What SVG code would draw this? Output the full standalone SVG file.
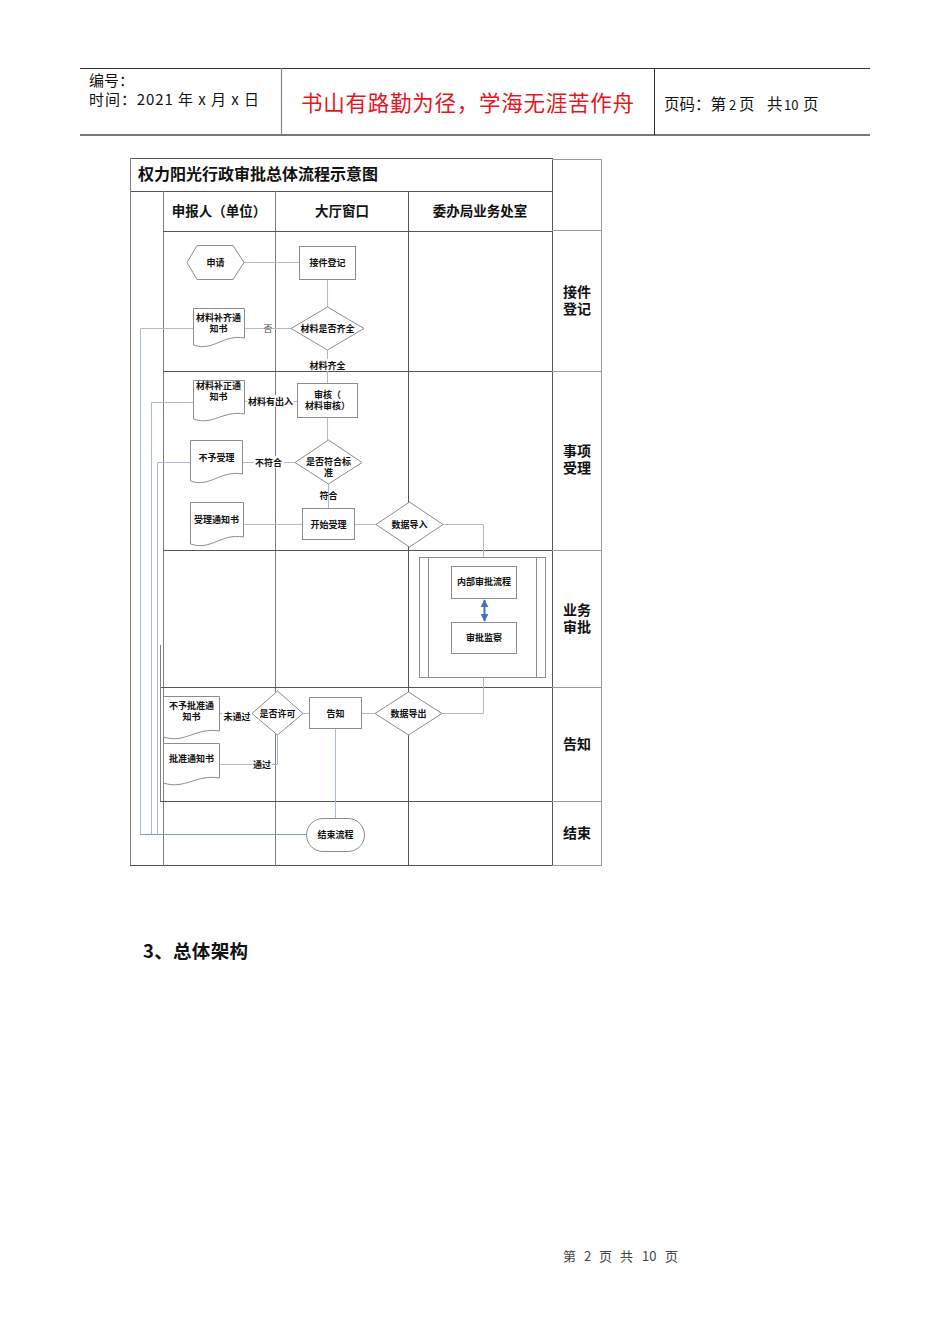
<svg xmlns="http://www.w3.org/2000/svg" width="950" height="1344" viewBox="0 0 950 1344">
<defs>
<style>
.cjk{font-family:"Noto Sans CJK SC","Liberation Sans",sans-serif;}
.grid{stroke:#7f7f7f;stroke-width:1;fill:none;}
.gridd{stroke:#555;stroke-width:1;fill:none;}
.rc{stroke:#9a9a9a;stroke-width:1;fill:none;}
.shape{fill:#fff;stroke:#8c8c8c;stroke-width:1;}
.conn{stroke:#a9bbd2;stroke-width:1;fill:none;}
.conn2{stroke:#7f9bc4;stroke-width:1;fill:none;}
.nt{font-family:"Noto Sans CJK SC","Liberation Sans",sans-serif;font-size:9px;font-weight:bold;fill:#111;text-anchor:middle;}
.lbl{font-family:"Noto Sans CJK SC","Liberation Sans",sans-serif;font-size:9px;font-weight:bold;fill:#111;text-anchor:middle;}
.hd{font-family:"Noto Sans CJK SC","Liberation Sans",sans-serif;font-size:13.5px;font-weight:bold;fill:#111;text-anchor:middle;}
.rl{font-family:"Noto Sans CJK SC","Liberation Sans",sans-serif;font-size:14px;font-weight:bold;fill:#111;text-anchor:middle;}
</style>
<marker id="ab" viewBox="0 0 10 10" refX="9" refY="5" markerWidth="4" markerHeight="4" orient="auto-start-reverse">
<path d="M0,0 L10,5 L0,10 z" fill="#4472c4"/>
</marker>
</defs>
<rect width="950" height="1344" fill="#fff"/>

<g id="page-header">
<line x1="80" y1="68.5" x2="870" y2="68.5" stroke="#333" stroke-width="1"/>
<line x1="80" y1="135" x2="870" y2="135" stroke="#777" stroke-width="2"/>
<line x1="281.5" y1="68" x2="281.5" y2="135" stroke="#888" stroke-width="1.2"/>
<line x1="654.5" y1="68" x2="654.5" y2="135" stroke="#333" stroke-width="1"/>
<text class="cjk" x="89" y="86" font-size="15" fill="#111">编号：</text>
<text class="cjk" x="89" y="105" font-size="15" fill="#111" textLength="170" lengthAdjust="spacing">时间：2021 年 x 月 x 日</text>
<text class="cjk" x="301" y="111" font-size="21.5" fill="#e8141e" textLength="333" lengthAdjust="spacing">书山有路勤为径，学海无涯苦作舟</text>
<text class="cjk" y="110" font-size="15.5" fill="#111"><tspan x="664">页码：第</tspan><tspan x="729" font-size="13">2</tspan><tspan x="739">页</tspan><tspan x="767">共</tspan><tspan x="784" font-size="13">10</tspan><tspan x="803">页</tspan></text>
</g>

<g id="swimlane-grid">
<rect x="130.5" y="158.5" width="422" height="33" class="gridd"/>
<line x1="130.5" y1="158" x2="130.5" y2="866" class="grid"/>
<line x1="130" y1="865.5" x2="552" y2="865.5" class="gridd"/>
<line x1="163.5" y1="191" x2="163.5" y2="866" class="grid"/>
<line x1="275.5" y1="191" x2="275.5" y2="866" class="grid"/>
<line x1="408.5" y1="191" x2="408.5" y2="866" class="gridd"/>
<line x1="552.5" y1="159" x2="552.5" y2="866" class="gridd"/>
<line x1="163" y1="231.5" x2="552" y2="231.5" class="gridd"/>
<line x1="163" y1="371.5" x2="552" y2="371.5" class="gridd"/>
<line x1="163" y1="550.5" x2="552" y2="550.5" class="gridd"/>
<line x1="160" y1="687.5" x2="552" y2="687.5" class="gridd"/>
<line x1="160" y1="801.5" x2="552" y2="801.5" class="gridd"/>
<line x1="160.5" y1="645" x2="160.5" y2="801" class="grid"/>
<line x1="601.5" y1="159" x2="601.5" y2="866" class="rc"/>
<line x1="552" y1="159.5" x2="601" y2="159.5" class="rc"/>
<line x1="552" y1="230.5" x2="601" y2="230.5" class="rc"/>
<line x1="552" y1="371.5" x2="601" y2="371.5" class="rc"/>
<line x1="552" y1="550.5" x2="601" y2="550.5" class="rc"/>
<line x1="552" y1="687.5" x2="601" y2="687.5" class="rc"/>
<line x1="552" y1="801.5" x2="601" y2="801.5" class="rc"/>
<line x1="552" y1="865.5" x2="601" y2="865.5" class="rc"/>
<text class="cjk" x="138" y="180" font-size="16" font-weight="bold" fill="#111">权力阳光行政审批总体流程示意图</text>
<text class="hd" x="219" y="216">申报人（单位）</text>
<text class="hd" x="342" y="216">大厅窗口</text>
<text class="hd" x="480" y="216">委办局业务处室</text>
<text class="rl"><tspan x="577" y="297">接件</tspan><tspan x="577" dy="17">登记</tspan></text>
<text class="rl"><tspan x="577" y="456">事项</tspan><tspan x="577" dy="17">受理</tspan></text>
<text class="rl"><tspan x="577" y="615">业务</tspan><tspan x="577" dy="17">审批</tspan></text>
<text class="rl" x="577" y="749">告知</text>
<text class="rl" x="577" y="838">结束</text>
</g>

<g id="node-subprocess">
<rect x="419.5" y="557.5" width="126" height="120" fill="#fff" stroke="#8c8c8c"/>
<line x1="428.5" y1="557.5" x2="428.5" y2="677.5" stroke="#8c8c8c"/>
<line x1="536.5" y1="557.5" x2="536.5" y2="677.5" stroke="#8c8c8c"/>
</g>

<g id="connectors">
<line x1="244" y1="262.5" x2="299" y2="262.5" class="conn"/>
<line x1="327.5" y1="279" x2="327.5" y2="307" class="conn"/>
<line x1="244" y1="328.5" x2="291" y2="328.5" class="conn"/>
<line x1="327.5" y1="350" x2="327.5" y2="383" class="conn"/>
<line x1="244" y1="401.5" x2="297" y2="401.5" class="conn"/>
<line x1="327.5" y1="418" x2="327.5" y2="440" class="conn"/>
<line x1="242" y1="462.5" x2="295" y2="462.5" class="conn"/>
<line x1="328.5" y1="484" x2="328.5" y2="508" class="conn"/>
<line x1="243" y1="524.5" x2="302" y2="524.5" class="conn"/>
<line x1="354" y1="524.5" x2="376" y2="524.5" class="conn"/>
<polyline points="443,524.5 483.5,524.5 483.5,557" class="conn"/>
<polyline points="442,713.5 483.5,713.5 483.5,678" class="conn"/>
<line x1="219" y1="713.5" x2="252" y2="713.5" class="conn"/>
<line x1="303" y1="713.5" x2="309" y2="713.5" class="conn"/>
<line x1="362" y1="713.5" x2="375" y2="713.5" class="conn"/>
<polyline points="219,764.5 277.5,764.5 277.5,735" class="conn"/>
<line x1="335.5" y1="729" x2="335.5" y2="818" class="conn"/>
<polyline points="193,328.5 140.5,328.5 140.5,834" class="conn"/>
<polyline points="193,402.5 151.5,402.5 151.5,834" class="conn"/>
<polyline points="190,462.5 157.5,462.5 157.5,834" class="conn"/>
<line x1="140" y1="834.5" x2="306" y2="834.5" class="conn2"/>
<line x1="484.5" y1="600" x2="484.5" y2="621" stroke="#4472c4" stroke-width="2" marker-start="url(#ab)" marker-end="url(#ab)"/>
<rect x="308" y="359" width="39" height="12" fill="#fff"/>
<text class="lbl" x="327.5" y="369">材料齐全</text>
<text x="268" y="331.5" font-family="'Liberation Serif','Noto Sans CJK SC',serif" font-size="9" fill="#444" text-anchor="middle">否</text>
<rect x="247" y="395" width="47" height="12" fill="#fff"/>
<text class="lbl" x="270.5" y="404.5">材料有出入</text>
<rect x="254" y="456" width="30" height="12" fill="#fff"/>
<text class="lbl" x="268.5" y="465.5">不符合</text>
<text class="lbl" x="328.5" y="498.5">符合</text>
<rect x="222" y="710" width="30" height="12" fill="#fff"/>
<text class="lbl" x="237" y="719.5">未通过</text>
<rect x="252" y="758" width="20" height="12" fill="#fff"/>
<text class="lbl" x="262" y="767.5">通过</text>
</g>

<g id="node-shenqing">
<polygon points="187,262.5 197,245.5 233,245.5 244,262.5 233,279.5 197,279.5" class="shape"/>
<text class="nt" x="215.5" y="265.5">申请</text>
</g>
<g id="node-jiejian">
<rect x="299.5" y="246.5" width="56" height="33" class="shape"/>
<text class="nt" x="327.5" y="265.5">接件登记</text>
</g>
<g id="node-qiquan">
<polygon points="327.5,307 364,328.5 327.5,350 291,328.5" class="shape"/>
<text class="nt" x="327.5" y="331.5">材料是否齐全</text>
</g>
<g id="node-buqi">
<path d="M193.5,308.5 H244.5 V338 C223,334 213,352 193.5,345 Z" class="shape"/>
<text class="nt" x="218.5" y="321">材料补齐通</text>
<text class="nt" x="218.5" y="332">知书</text>
</g>
<g id="node-buzheng">
<path d="M193.5,380.5 H244.5 V414 C223,410 213,426 193.5,419 Z" class="shape"/>
<text class="nt" x="218.5" y="388.5">材料补正通</text>
<text class="nt" x="218.5" y="399.5">知书</text>
</g>
<g id="node-shenhe">
<rect x="297.5" y="383.5" width="60" height="34" class="shape"/>
<text class="nt" x="327.5" y="398">审核（</text>
<text class="nt" x="327.5" y="409">材料审核）</text>
</g>
<g id="node-fuhe">
<polygon points="328.5,440 362,462.5 328.5,484 295,462.5" class="shape"/>
<text class="nt" x="328.5" y="464.5">是否符合标</text>
<text class="nt" x="328.5" y="475.5">准</text>
</g>
<g id="node-buyushouli">
<path d="M190.5,440.5 H242.5 V474 C220,470 210,488 190.5,481 Z" class="shape"/>
<text class="nt" x="216.5" y="460.5">不予受理</text>
</g>
<g id="node-shoulitongzhi">
<path d="M190.5,502.5 H243.5 V537 C221,533 211,551 190.5,544 Z" class="shape"/>
<text class="nt" x="216.5" y="522.5">受理通知书</text>
</g>
<g id="node-kaishi">
<rect x="302.5" y="508.5" width="52" height="31" class="shape"/>
<text class="nt" x="328.5" y="527.5">开始受理</text>
</g>
<g id="node-daoru">
<polygon points="409.5,502 443,524.5 409.5,547 376,524.5" class="shape"/>
<text class="nt" x="409.5" y="527.5">数据导入</text>
</g>
<g id="node-neibu">
<rect x="451.5" y="566.5" width="65" height="32" class="shape"/>
<text class="nt" x="484" y="585">内部审批流程</text>
</g>
<g id="node-jiancha">
<rect x="451.5" y="622.5" width="65" height="31" class="shape"/>
<text class="nt" x="484" y="641">审批监察</text>
</g>
<g id="node-bupizhun">
<path d="M163.5,696.5 H219.5 V731 C196,727 185,744 163.5,737 Z" class="shape"/>
<text class="nt" x="191.5" y="709">不予批准通</text>
<text class="nt" x="191.5" y="720">知书</text>
</g>
<g id="node-xuke">
<polygon points="277.5,691 303,713.5 277.5,735 252,713.5" class="shape"/>
<text class="nt" x="277.5" y="716.5">是否许可</text>
</g>
<g id="node-gaozhi">
<rect x="309.5" y="697.5" width="52" height="31" class="shape"/>
<text class="nt" x="335.5" y="716.5">告知</text>
</g>
<g id="node-daochu">
<polygon points="408.5,692 442,713.5 408.5,735 375,713.5" class="shape"/>
<text class="nt" x="408.5" y="716.5">数据导出</text>
</g>
<g id="node-pizhun">
<path d="M163.5,743.5 H219.5 V778 C196,774 185,790 163.5,783 Z" class="shape"/>
<text class="nt" x="191.5" y="762">批准通知书</text>
</g>
<g id="node-end">
<rect x="306.5" y="818.5" width="58" height="33" rx="16.5" ry="16.5" class="shape"/>
<text class="nt" x="335.5" y="838">结束流程</text>
</g>

<g id="section-title">
<text class="cjk" x="143" y="958" font-size="18.5" font-weight="bold" fill="#111" textLength="105" lengthAdjust="spacing">3、总体架构</text>
</g>
<g id="page-footer">
<text class="cjk" y="1261" font-size="13" fill="#444"><tspan x="563">第</tspan><tspan x="584">2</tspan><tspan x="599">页</tspan><tspan x="620">共</tspan><tspan x="642">10</tspan><tspan x="665">页</tspan></text>
</g>
</svg>
